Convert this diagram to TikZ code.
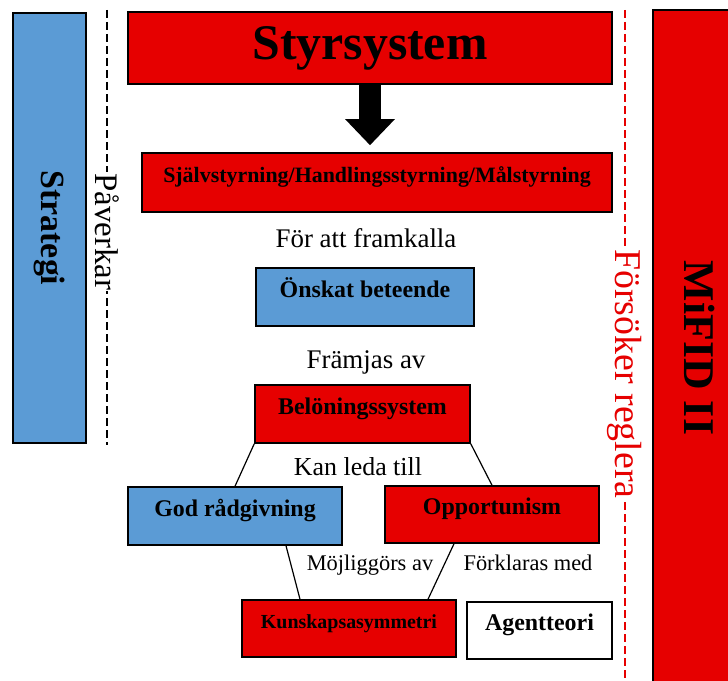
\documentclass[tikz,border=0pt]{standalone}
\usepackage{fontspec}
\setmainfont{Liberation Serif}
\usepackage{xcolor}
\usepackage{tikz}
\usetikzlibrary{arrows.meta, positioning, calc}

\definecolor{ctrlred}{RGB}{230,0,0}
\definecolor{ctrlblue}{RGB}{91,155,213}

\begin{document}
\begin{tikzpicture}[
    x=1bp, y=-1bp,
    every node/.style={font=\fontsize{24}{28}\selectfont},
    box/.style={rectangle, draw=black, line width=1.5bp, inner sep=0pt, align=center, text height=12bp, text depth=12bp, font=\bfseries\fontsize{24}{28}\selectfont},
    redbox/.style={box, fill=ctrlred},
    bluebox/.style={box, fill=ctrlblue},
    sidebox/.style={rectangle, draw=black, line width=1.5bp, inner sep=0pt, rotate=-90, font=\bfseries\fontsize{34}{38}\selectfont},
    relation/.style={anchor=base, inner sep=0pt, font=\fontsize{27}{30}\selectfont},
    smallrel/.style={anchor=base, inner sep=0pt, font=\fontsize{22.5}{26}\selectfont},
    sidelabel/.style={rotate=-90, fill=white, inner sep=1bp},
    link/.style={line width=1.2bp, black},
    influence/.style={line width=2bp, dash pattern=on 8bp off 4bp},
    blockarrow/.style={line width=22bp, -{Triangle[width=48bp, length=26bp]}}
]
\useasboundingbox (0,0) rectangle (728,681);

% Side columns
\node (strategi) [sidebox, fill=ctrlblue, minimum width=430bp, minimum height=73bp] at (49.5,228) {Strategi};
\node (mifid) [sidebox, fill=ctrlred, minimum width=676bp, minimum height=94bp, font=\bfseries\fontsize{44}{48}\selectfont] at (700,348) {MiFID II};

% Control system
\node (styr) [redbox, minimum width=484bp, minimum height=72bp, text height=, text depth=, font=\bfseries\fontsize{50}{54}\selectfont] at (370,48) {Styrsystem};
\node (sjalv) [redbox, minimum width=470bp, minimum height=59bp, font=\bfseries\fontsize{22}{26}\selectfont] at (377,182.5) {Självstyrning/Handlingsstyrning/Målstyrning};
\node (framkalla) [relation] at (366,247) {För att framkalla};
\node (onskat) [bluebox, minimum width=218bp, minimum height=58bp] at (365,297) {Önskat beteende};
\node (framjas) [relation] at (366,368) {Främjas av};

% Rewards and outcomes
\node (belon) [redbox, minimum width=215bp, minimum height=58bp] at (362.5,414) {Belöningssystem};
\node (kanleda) [relation, font=\fontsize{26}{30}\selectfont] at (358,475) {Kan leda till};
\node (god) [bluebox, minimum width=214bp, minimum height=58bp] at (235,516) {God rådgivning};
\node (opp) [redbox, minimum width=214bp, minimum height=57bp] at (492,514.5) {Opportunism};
\node (mojlig) [smallrel] at (370,570) {Möjliggörs av};
\node (forklaras) [smallrel] at (528,570) {Förklaras med};
\node (kunskap) [redbox, minimum width=214bp, minimum height=57bp, font=\bfseries\fontsize{20}{24}\selectfont] at (349,628.5) {Kunskapsasymmetri};
\node (agent) [box, fill=white, minimum width=145bp, minimum height=57bp] at (539.5,630.5) {Agentteori};

% Dashed influence lines
\coordinate (pavtop) at (107,10);
\coordinate (pavbot) at (107,445);
\draw [influence] (pavtop) -- node (pav) [sidelabel, pos=0.51, font=\fontsize{33}{36}\selectfont] {Påverkar} (pavbot);
\coordinate (regtop) at (625,10);
\coordinate (regbot) at (625,684);
\draw [influence, ctrlred] (regtop) -- node (reg) [sidelabel, pos=0.54, text=ctrlred, font=\fontsize{38}{42}\selectfont] {Försöker reglera} (regbot);

% Arrows and links
\draw [blockarrow] (styr.south) -- ([yshift=7bp]sjalv.north -| styr.south);
\draw [link] (belon.south west) -- (god.north);
\draw [link] (belon.south east) -- (opp.north);
\draw [link] ([xshift=51bp]god.south) -- ([xshift=-49bp]kunskap.north);
\draw [link] ([xshift=-38bp]opp.south) -- ([xshift=79bp]kunskap.north);

\end{tikzpicture}
\end{document}
